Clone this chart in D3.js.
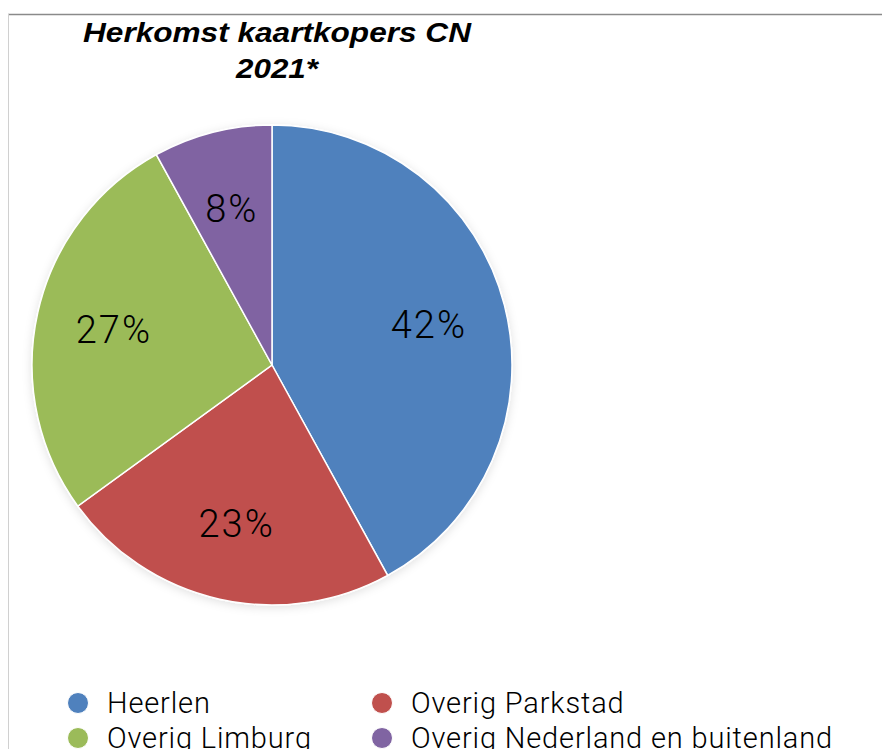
<!DOCTYPE html>
<html>
<head>
<meta charset="utf-8">
<script src="https://cdn.jsdelivr.net/npm/d3@7"></script>
<style>
  html, body { margin: 0; padding: 0; background: #fff; }
  svg { display: block; }
</style>
</head>
<body>
<div id="container"></div>
<script>
/* CONSTANTS AND GLOBALS */
const width = 882;
const height = 749;

/* DATA */
const categories = ["Heerlen", "Overig Parkstad", "Overig Limburg", "Overig Nederland en buitenland"];
const shares = [42, 23, 27, 8];
const sliceColors = ["#4F81BD", "#C0504D", "#9BBB59", "#8064A2"];
const titleLines = ["Herkomst kaartkopers CN", "2021*"];
const titleWidths = [388, 82];

const data = categories.map((c, i) => ({ name: c, value: shares[i] }));

const cx = 272, cy = 365, radius = 240;

/* SVG */
const svg = d3.select("#container")
  .append("svg")
  .attr("width", width)
  .attr("height", height);

// drop shadow for the pie
const defs = svg.append("defs");
const shadow = defs.append("filter")
  .attr("id", "shadow")
  .attr("x", "-20%").attr("y", "-20%")
  .attr("width", "140%").attr("height", "140%");
shadow.append("feDropShadow")
  .attr("dx", 0).attr("dy", 2)
  .attr("stdDeviation", 5)
  .attr("flood-color", "#000")
  .attr("flood-opacity", 0.12);

// frame lines
svg.append("line")
  .attr("x1", 8).attr("x2", width)
  .attr("y1", 14.5).attr("y2", 14.5)
  .attr("stroke", "#8a8a8a")
  .attr("stroke-width", 1.5);
svg.append("line")
  .attr("x1", 8.5).attr("x2", 8.5)
  .attr("y1", 14).attr("y2", height)
  .attr("stroke", "#d0d0d0")
  .attr("stroke-width", 1);

// title
svg.append("text")
  .attr("text-anchor", "middle")
  .style("font-family", "Liberation Sans, Arial, sans-serif")
  .style("font-weight", "bold")
  .style("font-style", "italic")
  .style("font-size", "28px")
  .selectAll("tspan")
  .data(titleLines)
  .join("tspan")
  .attr("x", 277)
  .attr("y", (d, i) => 42 + i * 36)
  .attr("textLength", (d, i) => titleWidths[i])
  .attr("lengthAdjust", "spacingAndGlyphs")
  .text(d => d);

/* PIE */
const pie = d3.pie()
  .sort(null)
  .value(d => d.value);

const arc = d3.arc()
  .innerRadius(0)
  .outerRadius(radius);

const labelArc = d3.arc()
  .innerRadius(radius * 0.675)
  .outerRadius(radius * 0.675);

const color = d3.scaleOrdinal()
  .domain(categories)
  .range(sliceColors);

const pieGroup = svg.append("g")
  .attr("transform", `translate(${cx}, ${cy})`);

pieGroup.append("g")
  .attr("filter", "url(#shadow)")
  .selectAll("path.slice")
  .data(pie(data))
  .join("path")
  .attr("class", "slice")
  .attr("d", arc)
  .attr("fill", d => color(d.data.name))
  .attr("stroke", "#fff")
  .attr("stroke-width", 1.5);

pieGroup.selectAll("text.label")
  .data(pie(data))
  .join("text")
  .attr("class", "label")
  .attr("transform", d => `translate(${labelArc.centroid(d)})`)
  .attr("text-anchor", "middle")
  .attr("dy", "0.36em")
  .style("font-family", "Roboto, sans-serif")
  .style("font-weight", 300)
  .style("font-size", "38px")
  .style("letter-spacing", "2px")
  .style("fill", "#000")
  .text(d => d.data.value + "%");

/* LEGEND */
const legendX = d3.scalePoint().domain([0, 1]).range([78, 382]);
const legendY = d3.scalePoint().domain([0, 1]).range([703, 738]);

const legend = svg.selectAll("g.legend")
  .data(data)
  .join("g")
  .attr("class", "legend")
  .attr("transform", (d, i) => `translate(${legendX(i % 2)}, ${legendY(Math.floor(i / 2))})`);

legend.append("circle")
  .attr("r", 10.5)
  .attr("fill", d => color(d.name))
  .attr("stroke", "#fff")
  .attr("stroke-width", 1);

legend.append("text")
  .attr("x", 29)
  .attr("dy", "0.36em")
  .style("font-family", "Roboto, sans-serif")
  .style("font-weight", 300)
  .style("font-size", "29px")
  .style("letter-spacing", "0.85px")
  .style("fill", "#000")
  .text(d => d.name);
</script>
</body>
</html>
